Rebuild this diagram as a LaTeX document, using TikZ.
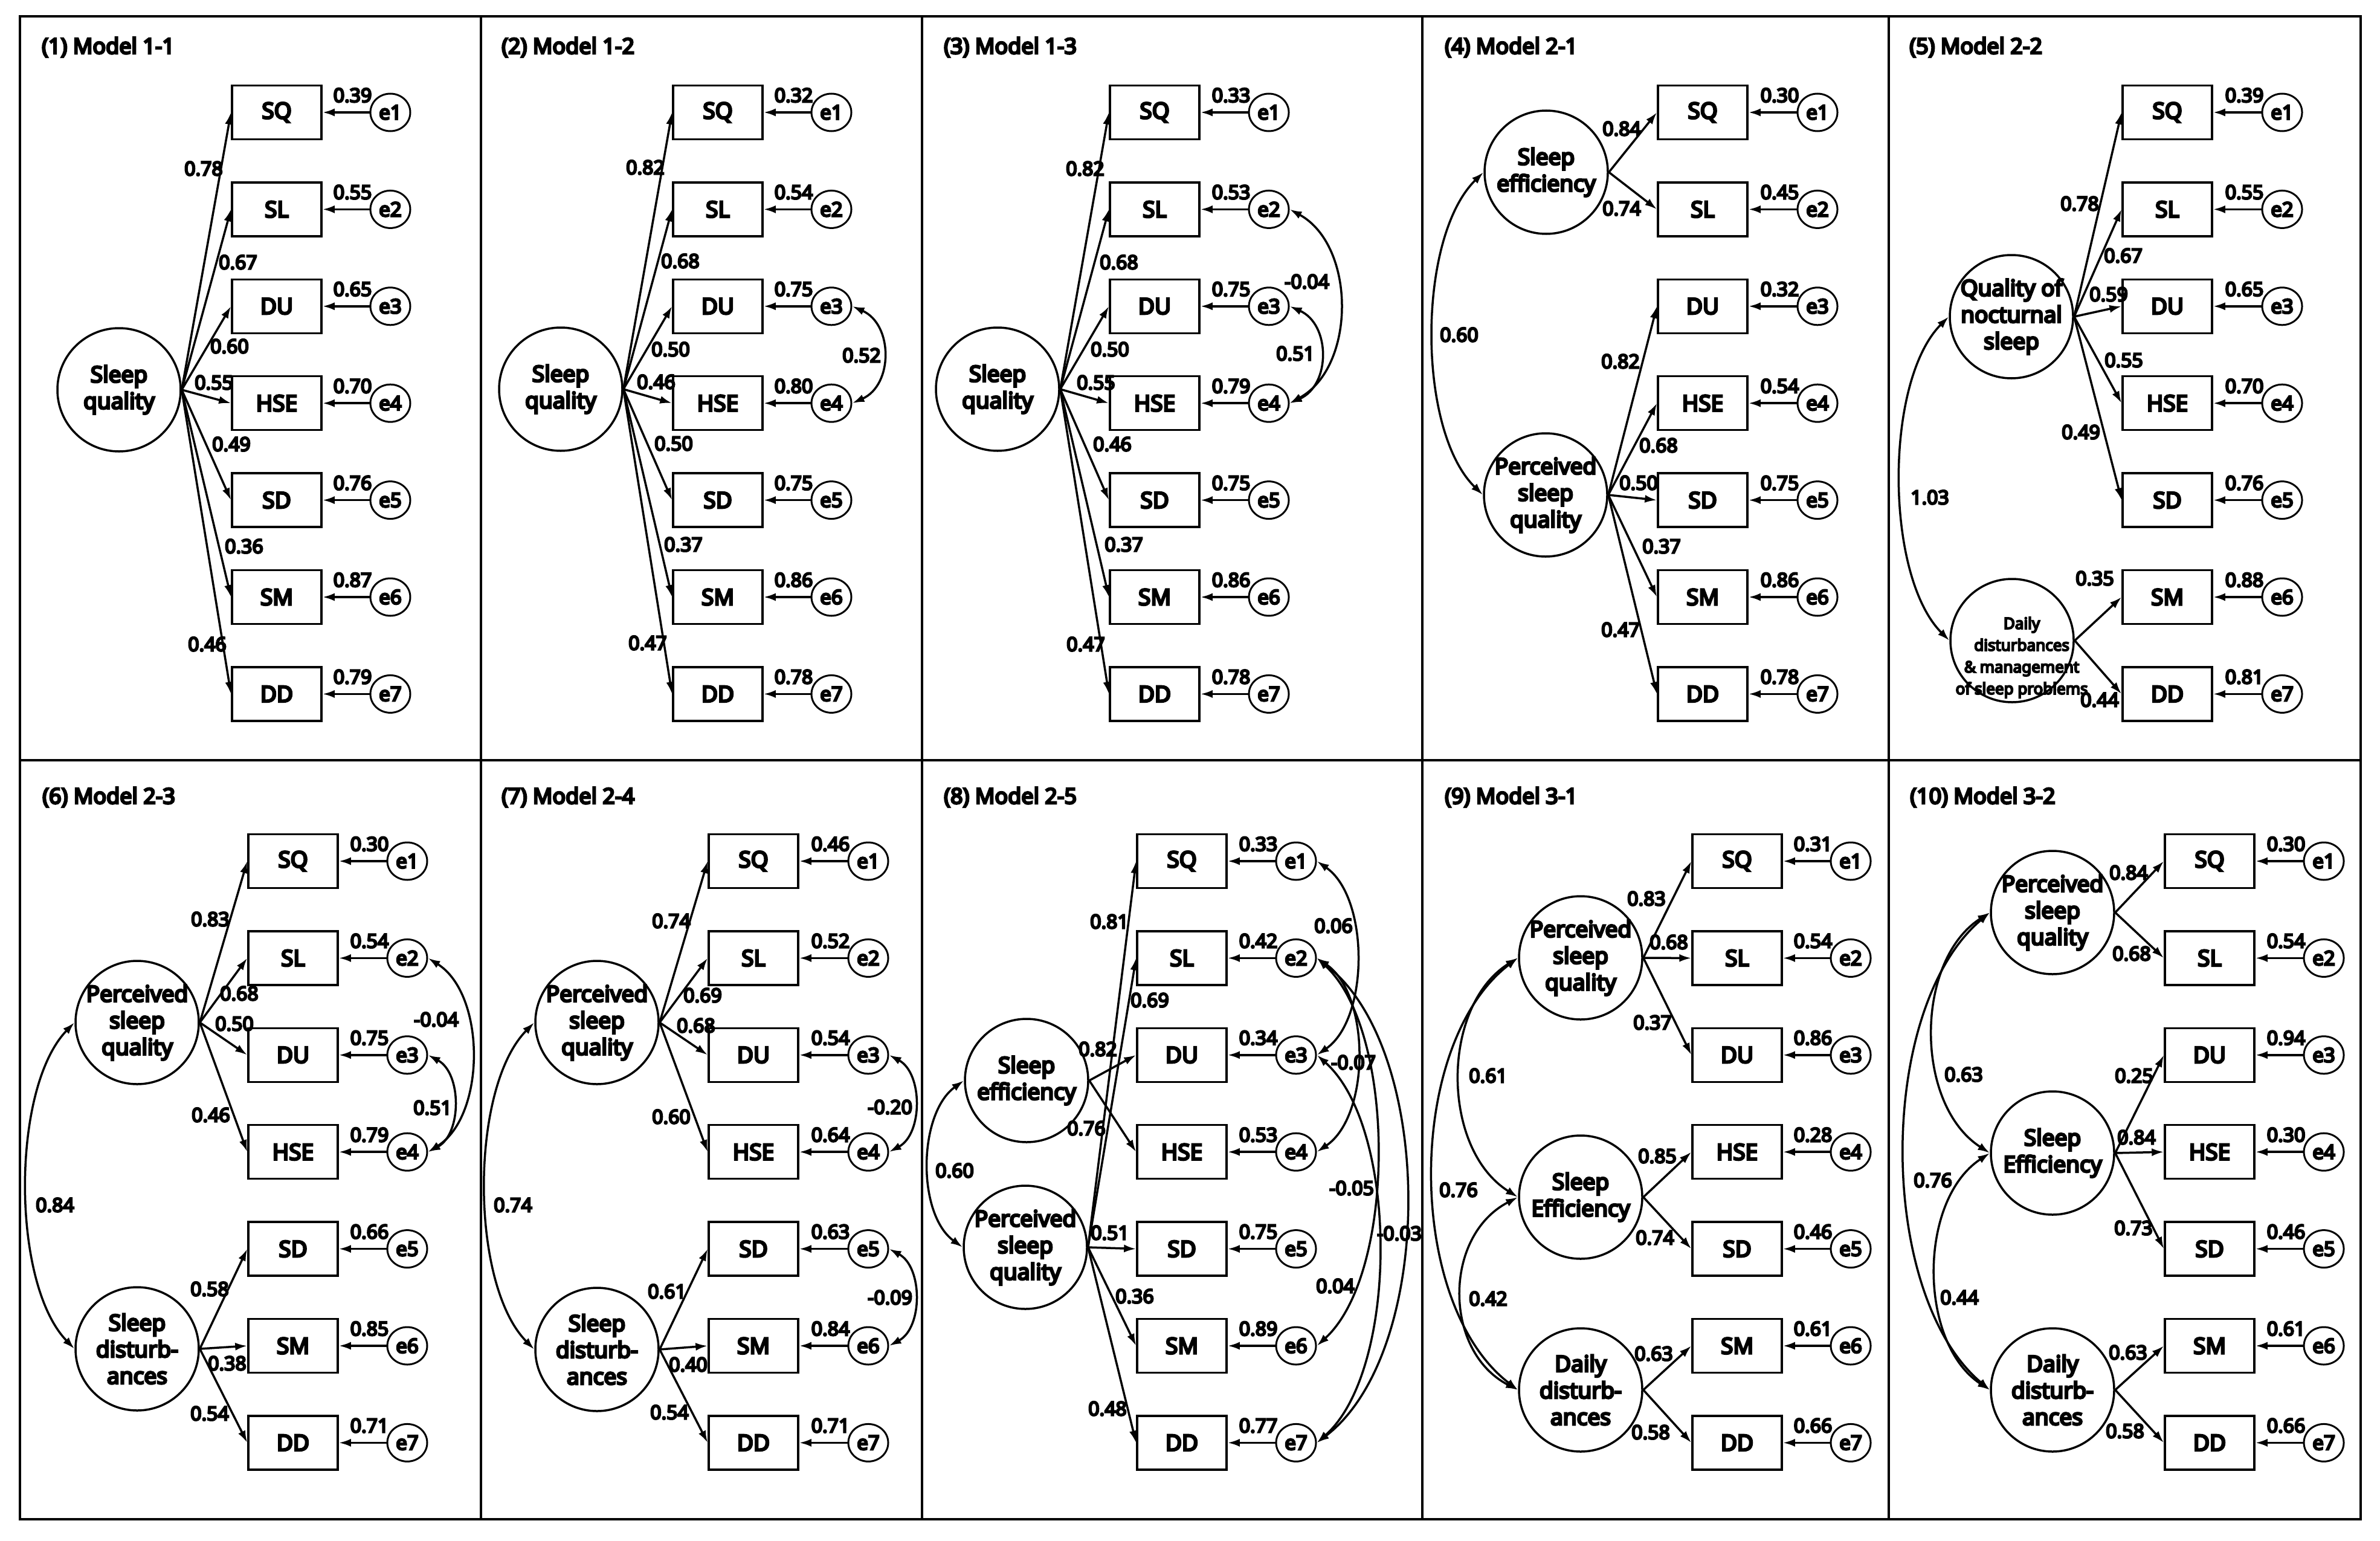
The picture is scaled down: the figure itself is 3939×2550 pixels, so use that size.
\documentclass[tikz,border=0pt]{standalone}
\usepackage{fontspec}
\setmainfont{Noto Sans}[AutoFakeBold=8]
\usetikzlibrary{arrows.meta,calc,shapes.geometric}
\tikzset{
  lw/.style={line width=3.5pt},
  obs/.style={draw,lw,rectangle,minimum width=148pt,minimum height=89pt,inner sep=0pt,font=\fontsize{37}{44}\selectfont\bfseries},
  err/.style={draw,line width=3pt,ellipse,minimum width=66pt,minimum height=62pt,inner sep=0pt,font=\fontsize{33}{40}\selectfont\bfseries},
  lat/.style={draw,lw,circle,minimum size=204pt,inner sep=-25pt,align=center,font=\fontsize{37}{44}\selectfont\bfseries},
  num/.style={inner sep=0pt,font=\fontsize{32}{38}\selectfont\bfseries},
  ttl/.style={anchor=base west,inner sep=0pt,font=\fontsize{36}{42}\selectfont\bfseries},
  lnk/.style={lw,-{Latex[length=20pt,width=13pt]}},
  cov/.style={lw,{Latex[length=20pt,width=13pt]}-{Latex[length=20pt,width=13pt]}},
}
\newcommand{\obsset}[5]{%
  \foreach \nm/\ev [count=\k] in {#5}{%
    \node[obs] (#1\nm) at (#2,{#4+(\k-1)*160.4}) {\nm};
    \node[err] (#1e\k) at (#3,{#4+(\k-1)*160.4}) {e\k};
    \draw[lnk] (#1e\k.west) -- (#1\nm.east);
    \node[num,anchor=base east] at ($(#1e\k.west)+(4,-17)$) {\ev};
  }}
\newcommand{\loads}[3]{\foreach \t/\lx/\ly/\v in {#3}{\draw[lnk] (#1.east) -- (#2\t.west); \node[num] at (\lx,\ly) {\v};}}
\newcommand{\covR}[4]{\draw[cov] (#1.east) .. controls +(#3,#4) and +(#3,-#4) .. (#2.east);}
\newcommand{\covL}[4]{\draw[cov] (#1.west) .. controls +(-#3,#4) and +(-#3,-#4) .. (#2.west);}
\begin{document}
\begin{tikzpicture}[x=1pt,y=-1pt]
\fill[white] (0,0) rectangle (3939,2550);
\useasboundingbox (0,0) rectangle (3939,2550);
% frame
\draw[lw] (33,27) rectangle (3907,2514);
\foreach \fx in {796,1526,2354,3126} \draw[lw] (\fx,27) -- (\fx,2514);
\draw[lw] (33,1258) -- (3907,1258);

% ---------- Panel 1
\node[ttl] (t1) at (69,89) {(1) Model 1-1};
\obsset{A}{458}{646}{186}{SQ/0.39,SL/0.55,DU/0.65,HSE/0.70,SD/0.76,SM/0.87,DD/0.79}
\node[lat] (AL) at (197,645) {Sleep\\quality};
\loads{AL}{A}{SQ/337/279/0.78,SL/394/434/0.67,DU/380/573/0.60,HSE/354/633/0.55,SD/383/735/0.49,SM/404/904/0.36,DD/343/1066/0.46}

% ---------- Panel 2
\node[ttl] (t2) at (830,89) {(2) Model 1-2};
\obsset{B}{1188}{1376}{186}{SQ/0.32,SL/0.54,DU/0.75,HSE/0.80,SD/0.75,SM/0.86,DD/0.78}
\node[lat] (BL) at (928,644) {Sleep\\quality};
\loads{BL}{B}{SQ/1068/277/0.82,SL/1126/432/0.68,DU/1110/578/0.50,HSE/1086/632/0.46,SD/1115/734/0.50,SM/1131/901/0.37,DD/1072/1064/0.47}
\covR{Be3}{Be4}{68}{30}
\node[num] at (1426,588) {0.52};

% ---------- Panel 3
\node[ttl] (t3) at (1562,89) {(3) Model 1-3};
\obsset{C}{1911}{2100}{186}{SQ/0.33,SL/0.53,DU/0.75,HSE/0.79,SD/0.75,SM/0.86,DD/0.78}
\node[lat] (CL) at (1651,644) {Sleep\\quality};
\loads{CL}{C}{SQ/1796/279/0.82,SL/1852/434/0.68,DU/1837/578/0.50,HSE/1814/633/0.55,SD/1841/735/0.46,SM/1860/901/0.37,DD/1797/1066/0.47}
\covR{Ce2}{Ce4}{110}{60}
\covR{Ce3}{Ce4}{68}{30}
\node[num] at (2163,466) {-0.04};
\node[num] at (2144,585) {0.51};

% ---------- Panel 4
\node[ttl] (t4) at (2391,89) {(4) Model 2-1};
\obsset{D}{2818}{3008}{186}{SQ/0.30,SL/0.45,DU/0.32,HSE/0.54,SD/0.75,SM/0.86,DD/0.78}
\node[lat] (DL1) at (2559,285) {Sleep\\efficiency};
\node[lat] (DL2) at (2558,819) {Perceived\\sleep\\quality};
\loads{DL1}{D}{SQ/2684/213/0.84,SL/2684/345/0.74}
\loads{DL2}{D}{DU/2682/598/0.82,HSE/2745/737/0.68,SD/2712/799/0.50,SM/2750/904/0.37,DD/2682/1042/0.47}
\covL{DL1}{DL2}{110}{107}
\node[num] at (2415,554) {0.60};

% ---------- Panel 5
\node[ttl] (t5) at (3160,89) {(5) Model 2-2};
\obsset{E}{3587}{3777}{186}{SQ/0.39,SL/0.55,DU/0.65,HSE/0.70,SD/0.76,SM/0.88,DD/0.81}
\node[lat] (EL1) at (3329,524) {Quality of\\nocturnal\\sleep};
\node[lat] (EL2) at (3330,1060) {};
\node[align=center,inner sep=0pt,font=\fontsize{26}{36}\selectfont\bfseries] (EL2t) at (3346,1088) {Daily\\disturbances\\\& management\\of sleep problems};
\loads{EL1}{E}{SQ/3442/337/0.78,SL/3514/423/0.67,DU/3490/487/0.59,HSE/3515/596/0.55,SD/3444/715/0.49}
\loads{EL2}{E}{SM/3467/957/0.35,DD/3475/1158/0.44}
\covL{EL1}{EL2}{107}{107}
\node[num] at (3194,823) {1.03};

% ---------- Panel 6
\node[ttl] (t6) at (70,1330) {(6) Model 2-3};
\obsset{F}{485}{674}{1425}{SQ/0.30,SL/0.54,DU/0.75,HSE/0.79,SD/0.66,SM/0.85,DD/0.71}
\node[lat] (FL1) at (227,1692) {Perceived\\sleep\\quality};
\node[lat] (FL2) at (227,2232) {Sleep\\disturb-\\ances};
\loads{FL1}{F}{SQ/348/1521/0.83,SL/396/1644/0.68,DU/388/1694/0.50,HSE/349/1845/0.46}
\loads{FL2}{F}{SD/347/2133/0.58,SM/376/2256/0.38,DD/347/2339/0.54}
\covR{Fe2}{Fe4}{96}{60}
\covR{Fe3}{Fe4}{56}{30}
\node[num] at (722,1687) {-0.04};
\node[num] at (716,1833) {0.51};
\covL{FL1}{FL2}{105}{108}
\node[num] at (91,1994) {0.84};

% ---------- Panel 7
\node[ttl] (t7) at (830,1330) {(7) Model 2-4};
\obsset{G}{1247}{1437}{1425}{SQ/0.46,SL/0.52,DU/0.54,HSE/0.64,SD/0.63,SM/0.84,DD/0.71}
\node[lat] (GL1) at (988,1692) {Perceived\\sleep\\quality};
\node[lat] (GL2) at (988,2233) {Sleep\\disturb-\\ances};
\loads{GL1}{G}{SQ/1111/1524/0.74,SL/1163/1647/0.69,DU/1152/1697/0.68,HSE/1111/1848/0.60}
\loads{GL2}{G}{SD/1104/2137/0.61,SM/1139/2258/0.40,DD/1108/2337/0.54}
\covR{Ge3}{Ge4}{56}{30}
\covR{Ge5}{Ge6}{56}{30}
\node[num] at (1473,1832) {-0.20};
\node[num] at (1473,2147) {-0.09};
\covL{GL1}{GL2}{107}{108}
\node[num] at (849,1994) {0.74};

% ---------- Panel 8
\node[ttl] (t8) at (1562,1330) {(8) Model 2-5};
\obsset{H}{1956}{2145}{1425}{SQ/0.33,SL/0.42,DU/0.34,HSE/0.53,SD/0.75,SM/0.89,DD/0.77}
\node[lat] (HL1) at (1699,1788) {Sleep\\efficiency};
\node[lat] (HL2) at (1697,2064) {Perceived\\sleep\\quality};
\loads{HL1}{H}{DU/1817/1736/0.82,HSE/1798/1867/0.76}
\loads{HL2}{H}{SQ/1836/1525/0.81,SL/1903/1655/0.69,SD/1837/2040/0.51,SM/1878/2145/0.36,DD/1833/2331/0.48}
\covL{HL1}{HL2}{76}{55}
\node[num] at (1580,1937) {0.60};
\covR{He1}{He3}{87}{60}
\covR{He2}{He4}{89}{60}
\covR{He2}{He6}{132}{120}
\covR{He3}{He7}{136}{120}
\covR{He2}{He7}{197}{150}
\node[num] at (2207,1532) {0.06};
\node[num] at (2240,1758) {-0.07};
\node[num] at (2237,1966) {-0.05};
\node[num] at (2316,2041) {-0.03};
\node[num] at (2210,2128) {0.04};

% ---------- Panel 9
\node[ttl] (t9) at (2391,1330) {(9) Model 3-1};
\obsset{I}{2875}{3063}{1425}{SQ/0.31,SL/0.54,DU/0.86,HSE/0.28,SD/0.46,SM/0.61,DD/0.66}
\node[lat] (IL1) at (2616,1585) {Perceived\\sleep\\quality};
\node[lat] (IL2) at (2616,1981) {Sleep\\Efficiency};
\node[lat] (IL3) at (2616,2300) {Daily\\disturb-\\ances};
\loads{IL1}{I}{SQ/2725/1487/0.83,SL/2762/1559/0.68,DU/2735/1692/0.37}
\loads{IL2}{I}{HSE/2743/1913/0.85,SD/2739/2048/0.74}
\loads{IL3}{I}{SM/2737/2240/0.63,DD/2732/2370/0.58}
\covL{IL1}{IL2}{128}{80}
\covL{IL2}{IL3}{124}{64}
\covL{IL1}{IL3}{187}{143}
\node[num] at (2463,1780) {0.61};
\node[num] at (2463,2149) {0.42};
\node[num] at (2414,1969) {0.76};

% ---------- Panel 10
\node[ttl] (t10) at (3161,1330) {(10) Model 3-2};
\obsset{J}{3657}{3846}{1425}{SQ/0.30,SL/0.54,DU/0.94,HSE/0.30,SD/0.46,SM/0.61,DD/0.66}
\node[lat] (JL1) at (3397,1510) {Perceived\\sleep\\quality};
\node[lat] (JL2) at (3397,1908) {Sleep\\Efficiency};
\node[lat] (JL3) at (3397,2300) {Daily\\disturb-\\ances};
\loads{JL1}{J}{SQ/3523/1444/0.84,SL/3528/1578/0.68}
\loads{JL2}{J}{DU/3532/1780/0.25,HSE/3536/1882/0.84,SD/3531/2032/0.73}
\loads{JL3}{J}{SM/3522/2238/0.63,DD/3517/2368/0.58}
\covL{JL1}{JL2}{125}{80}
\covL{JL2}{JL3}{119}{78}
\covL{JL1}{JL3}{188}{158}
\node[num] at (3250,1778) {0.63};
\node[num] at (3243,2147) {0.44};
\node[num] at (3199,1953) {0.76};
\end{tikzpicture}
\end{document}
